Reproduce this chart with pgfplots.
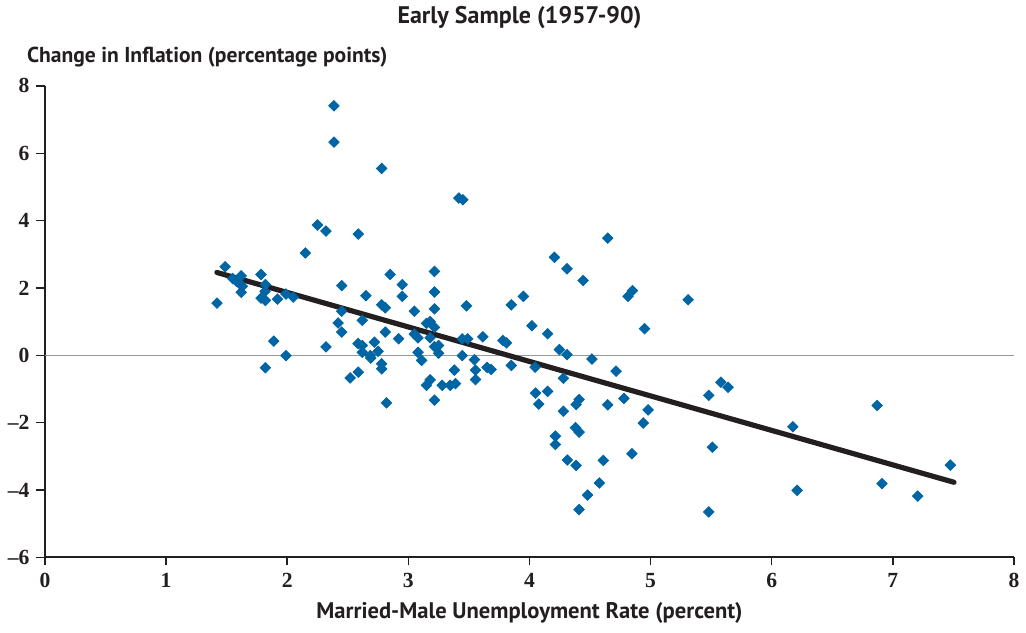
\documentclass[border=0pt]{standalone}
\usepackage{fontspec}
\setmainfont{PT Sans}
\newfontfamily\tickfont{Liberation Serif}
\usepackage{pgfplots}
\pgfplotsset{compat=1.18}
\definecolor{ptblue}{RGB}{0,101,164}
\definecolor{linedark}{RGB}{35,31,32}
\begin{document}
\begin{tikzpicture}
\begin{axis}[
  scale only axis,
  width=485pt, height=236pt,
  xmin=0, xmax=8, ymin=-6, ymax=8,
  axis x line*=bottom, axis y line*=left,
  axis line style={-, line width=1pt, linedark},
  xtick={0,1,...,8}, ytick={-6,-4,...,8},
  xticklabels={0,1,2,3,4,5,6,7,8},
  yticklabels={–6,–4,–2,0,2,4,6,8},
  tick align=outside,
  xtick style={linedark, line width=0.7pt},
  ytick style={linedark, line width=0.7pt},
  x tick style={/pgfplots/major tick length=4pt},
  y tick style={/pgfplots/major tick length=4.5pt},
  tick label style={font=\tickfont\bfseries\fontsize{10.8}{12}\selectfont, text=linedark},
  xticklabel style={yshift=0pt},
  yticklabel style={xshift=0pt},
  clip=false,
]
\path (axis cs:-0.371,-8.226) rectangle (axis cs:8.091,10.55);
\draw[gray!80, line width=0.5pt] (axis cs:0,0) -- (axis cs:8,0);
\addplot[only marks, mark=square*, mark size=1.85pt, mark options={rotate=45, fill=ptblue, draw=ptblue}] coordinates {
(1.42,1.55) (1.487,2.63) (1.55,2.28) (1.58,2.20) (1.61,2.12) (1.62,2.36) (1.63,2.05) (1.62,1.87)
(1.784,2.40) (1.82,2.10) (1.817,1.90) (1.784,1.70) (1.82,1.63) (1.889,0.42) (1.82,-0.37)
(1.92,1.67) (1.99,1.82) (1.99,-0.01) (2.05,1.73) (2.15,3.04) (2.25,3.87) (2.32,3.69) (2.32,0.25)
(2.386,7.41) (2.386,6.33) (2.42,0.96) (2.45,2.07) (2.45,1.31) (2.45,0.69) (2.52,-0.67)
(2.587,3.60) (2.585,0.35) (2.587,-0.50) (2.62,1.04) (2.62,0.29) (2.62,0.09) (2.65,1.77)
(2.686,-0.01) (2.69,-0.08) (2.72,0.39) (2.75,0.12) (2.78,5.55) (2.78,1.50) (2.78,-0.25)
(2.78,-0.40) (2.81,1.41) (2.81,0.69) (2.82,-1.41) (2.85,2.40) (2.92,0.49) (2.95,2.10) (2.95,1.75)
(3.05,1.31) (3.05,0.63) (3.08,0.52) (3.08,0.09) (3.11,-0.15) (3.15,0.95) (3.18,1.00) (3.216,0.83)
(3.18,0.52) (3.216,0.26) (3.25,0.29) (3.25,0.06) (3.216,2.49) (3.216,1.88) (3.216,1.38)
(3.15,-0.89) (3.18,-0.73) (3.216,-1.33) (3.28,-0.89) (3.346,-0.89) (3.39,-0.84) (3.38,-0.44)
(3.417,4.67) (3.45,4.62) (3.48,1.47) (3.445,0.49) (3.49,0.49) (3.445,-0.01) (3.546,-0.13)
(3.555,-0.44) (3.555,-0.72) (3.615,0.55) (3.65,-0.36) (3.684,-0.42) (3.78,0.44) (3.81,0.37)
(3.85,1.50) (3.85,-0.30) (3.95,1.75) (4.02,0.88) (4.047,-0.35) (4.05,-1.12) (4.077,-1.45)
(4.15,0.64) (4.15,-1.07) (4.206,2.91) (4.247,0.17) (4.31,0.02) (4.28,-0.68) (4.31,2.57)
(4.443,2.22) (4.516,-0.11) (4.646,3.48) (4.715,-0.47) (4.814,1.75) (4.85,1.92) (4.95,0.79)
(4.28,-1.66) (4.385,-1.46) (4.41,-1.31) (4.646,-1.47) (4.78,-1.28) (4.98,-1.62) (4.94,-2.01)
(4.214,-2.40) (4.214,-2.65) (4.38,-2.15) (4.41,-2.28) (4.313,-3.11) (4.385,-3.27) (4.61,-3.12)
(4.846,-2.92) (4.577,-3.79) (4.48,-4.15) (4.41,-4.58) (5.31,1.65) (5.48,-1.19) (5.58,-0.80)
(5.64,-0.95) (5.51,-2.73) (5.48,-4.65) (6.175,-2.12) (6.21,-4.01) (6.87,-1.49) (6.91,-3.81)
(7.205,-4.18) (7.475,-3.26)
};
\addplot[linedark, line width=2.6pt, line cap=round] coordinates {(1.42,2.46) (7.505,-3.77)};
\node[font=\fontsize{12}{14}\selectfont\bfseries, text=linedark] at (axis cs:3.918,10.02) {Early Sample (1957-90)};
\node[font=\fontsize{10.8}{13}\selectfont\bfseries, text=linedark, anchor=west] at (axis cs:-0.206,8.86) {Change in Inflation (percentage points)};
\node[font=\fontsize{11.3}{13}\selectfont\bfseries, text=linedark] at (axis cs:4.0,-7.66) {Married-Male Unemployment Rate (percent)};
\end{axis}
\end{tikzpicture}
\end{document}
